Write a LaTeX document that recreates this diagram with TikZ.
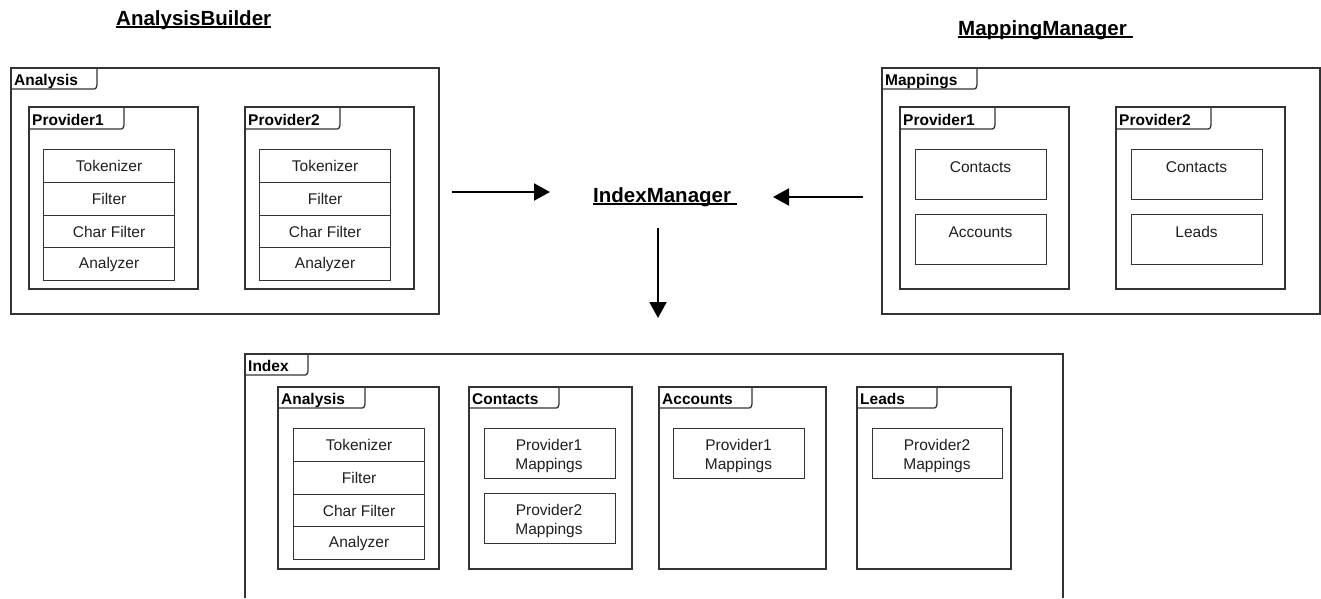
\documentclass[tikz,border=0pt]{standalone}
\usepackage{fontspec}
\setmainfont{Liberation Sans}
\usetikzlibrary{arrows.meta,calc}
\definecolor{linegray}{gray}{0.2}
\definecolor{textgray}{gray}{0.12}
\tikzset{
  frameline/.style={draw=linegray, line width=1.3pt},
  tablabel/.style={anchor=base west, inner sep=0pt, font=\fontsize{15.5}{18}\selectfont\bfseries},
  rowbox/.style={draw=linegray, line width=1.2pt, minimum width=131pt, minimum height=32.75pt,
    inner sep=0pt, font=\fontsize{15.5}{18}\selectfont, text=textgray, anchor=north west},
  mapbox/.style={draw=linegray, line width=1.2pt, inner sep=0pt, anchor=north west,
    minimum width=131pt, minimum height=49.5pt},
  boxtext/.style={font=\fontsize{15.5}{19}\selectfont, text=textgray, inner sep=0pt, align=center},
  titletext/.style={anchor=base west, inner sep=0pt, font=\fontsize{20.5}{24}\selectfont\bfseries},
  uline/.style={line width=1.3pt},
  arr/.style={line width=2pt, -{Triangle[length=16pt,width=17pt]}},
}
% #1 label node name, #2 x1, #3 y1, #4 x2, #5 y2, #6 tab x, #7 tab y, #8 label
\newcommand\umlframe[8]{%
  \draw[frameline] (#2,#3) rectangle (#4,#5);
  \draw[frameline] (#2,#7) -- ({#6-5},#7) .. controls ({#6-1},#7) .. (#6,{#7-4}) -- (#6,#3);
  \node[tablabel] (#1) at ({#2+3},{#7-4}) {#8};
}
% #1 prefix, #2 x, #3 y
\newcommand\analysisstack[3]{%
  \node[rowbox] (#1tok) at (#2,#3) {Tokenizer};
  \node[rowbox] (#1fil) at (#2,{#3+32.75}) {Filter};
  \node[rowbox] (#1chf) at (#2,{#3+65.5}) {Char Filter};
  \node[rowbox] (#1ana) at (#2,{#3+98.25}) {Analyzer};
}
\begin{document}
\begin{tikzpicture}[x=1pt,y=-1pt]
\useasboundingbox (0,0) rectangle (1321,598);

% ---- titles ----
\node[titletext] (ab) at (116,25) {AnalysisBuilder};
\draw[uline] ($(ab.base west)+(0,2)$) -- ($(ab.base east)+(0,2)$);
\node[titletext] (mm) at (958,35) {MappingManager};
\draw[uline] ($(mm.base west)+(0,2)$) -- ($(mm.base east)+(6,2)$);
\node[titletext] (im) at (593,202) {IndexManager};
\draw[uline] ($(im.base west)+(0,2)$) -- ($(im.base east)+(6,2)$);

% ---- Analysis (top left) ----
\umlframe{aframe}{11}{68}{439}{314}{97}{89}{Analysis}
\umlframe{ap1}{29}{107}{198}{289}{124}{129}{Provider1}
\analysisstack{aps}{43}{149}
\umlframe{ap2}{245}{107}{414}{289}{340}{129}{Provider2}
\analysisstack{apt}{259}{149}

% ---- Mappings (top right) ----
\umlframe{mframe}{882}{68}{1320}{314}{977}{89}{Mappings}
\umlframe{mp1}{900}{107}{1069}{289}{995}{129}{Provider1}
\node[mapbox] (mp1cbox) at (915,149) {};
\node[boxtext] (mp1c) at (980.5,167) {Contacts};
\node[mapbox] (mp1abox) at (915,214) {};
\node[boxtext] (mp1a) at (980.5,232) {Accounts};
\umlframe{mp2}{1116}{107}{1285}{289}{1211}{129}{Provider2}
\node[mapbox] (mp2cbox) at (1131,149) {};
\node[boxtext] (mp2c) at (1196.5,167) {Contacts};
\node[mapbox] (mp2lbox) at (1131,214) {};
\node[boxtext] (mp2l) at (1196.5,232) {Leads};

% ---- arrows ----
\coordinate (r1) at (452,192);
\coordinate (r2) at (550,192);
\draw[arr] (r1) -- (r2);
\coordinate (l1) at (863,197);
\coordinate (l2) at (773,197);
\draw[arr] (l1) -- (l2);
\coordinate (d1) at (658,228);
\coordinate (d2) at (658,318);
\draw[arr] (d1) -- (d2);

% ---- Index (bottom) ----
\draw[frameline] (245,598) -- (245,354) -- (1063,354) -- (1063,598);
\draw[frameline] (245,375) -- (303,375) .. controls (307,375) .. (308,371) -- (308,354);
\node[tablabel] (iframe) at (248,371) {Index};

\umlframe{ian}{278}{387}{439}{569}{365}{408}{Analysis}
\analysisstack{ias}{293}{428}

\umlframe{ico}{469}{387}{632}{569}{559}{408}{Contacts}
\node[mapbox] (ico1box) at (484,428) {};
\node[boxtext] (ico1) at (549,456) {Provider1\\Mappings};
\node[mapbox] (ico2box) at (484,493) {};
\node[boxtext] (ico2) at (549,521) {Provider2\\Mappings};

\umlframe{iac}{659}{387}{826}{569}{752}{408}{Accounts}
\node[mapbox] (iac1box) at (673,428) {};
\node[boxtext] (iac1) at (738.5,456) {Provider1\\Mappings};

\umlframe{ile}{857}{387}{1011}{569}{937}{408}{Leads}
\node[mapbox, minimum width=130pt] (ile1box) at (872,428) {};
\node[boxtext] (ile1) at (937,456) {Provider2\\Mappings};
\end{tikzpicture}
\end{document}
